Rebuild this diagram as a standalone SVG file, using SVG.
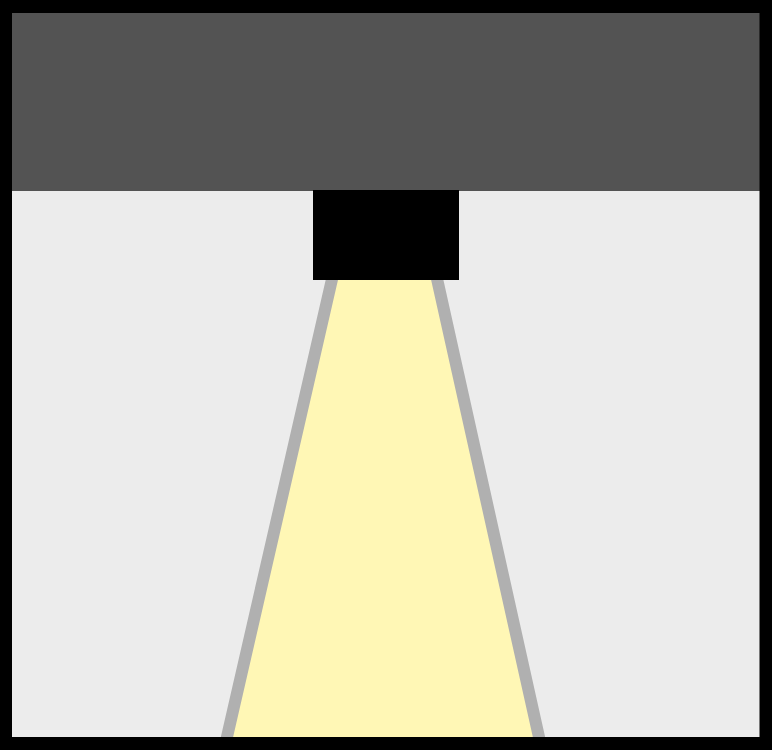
<svg xmlns="http://www.w3.org/2000/svg" width="772" height="750" viewBox="0 0 772 750">
  <style>
    .frame { fill: #000000; fill-rule: evenodd; }
    .room { fill: #ececec; }
    .ceiling { fill: #535353; }
    .beam { fill: #fff7b5; stroke: #b0b0b0; stroke-width: 12; stroke-linejoin: miter; }
    .lamp { fill: #000000; }
  </style>
  <rect class="room" x="0" y="0" width="772" height="750"/>
  <rect class="ceiling" x="0" y="0" width="772" height="191"/>
  <g id="beam">
    <polygon class="beam" points="338.7,250 430.6,250 544.1,760 221.7,760"/>
  </g>
  <g id="lamp">
    <rect class="lamp" x="313" y="190" width="146" height="90"/>
  </g>
  <path class="frame" d="M0,0 H772 V750 H0 Z M12,13 V737 H759.5 V13 Z"/>
</svg>
